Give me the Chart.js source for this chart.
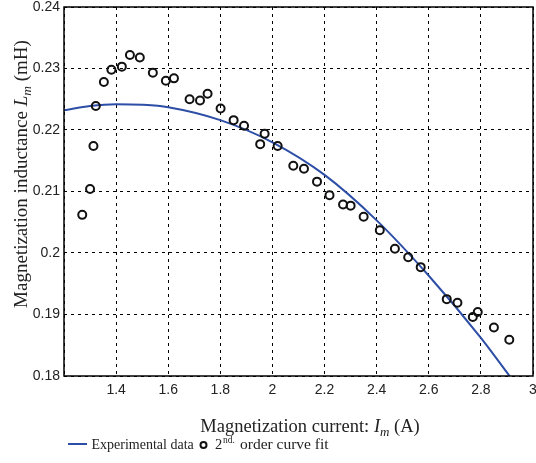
<!DOCTYPE html>
<html>
<head>
<meta charset="utf-8">
<script src="https://cdn.jsdelivr.net/npm/chart.js@4/dist/chart.umd.min.js"></script>
<style>
  html, body { margin: 0; padding: 0; background: #fff; }
  #wrap { position: relative; width: 536px; height: 463px; }
</style>
</head>
<body>
<div id="wrap"><canvas id="chart"></canvas></div>
<script>
const currentData = [1.27, 1.30, 1.313, 1.322, 1.353, 1.382, 1.422, 1.453, 1.491, 1.541, 1.591, 1.622,
  1.682, 1.722, 1.751, 1.801, 1.851, 1.891, 1.953, 1.970, 2.020, 2.080, 2.121, 2.171, 2.219, 2.271,
  2.300, 2.350, 2.412, 2.470, 2.521, 2.569, 2.669, 2.710, 2.769, 2.788, 2.850, 2.909];
const inductanceData = [0.2062, 0.2104, 0.2174, 0.2239, 0.2278, 0.2298, 0.2303, 0.2322, 0.2318, 0.2293, 0.2280, 0.2284,
  0.2250, 0.2248, 0.2259, 0.2235, 0.2216, 0.2207, 0.2177, 0.2194, 0.2174, 0.2142, 0.2137, 0.2116, 0.2094, 0.2079,
  0.2077, 0.2059, 0.2037, 0.2007, 0.1993, 0.1977, 0.1925, 0.1919, 0.1896, 0.1904, 0.1879, 0.1859];

// Fitted curve
const curveX = [1.2, 1.3, 1.4, 1.5, 1.6, 1.8, 2.0, 2.2, 2.4, 2.6, 2.8, 2.91];
const curveY = [0.2232, 0.2239, 0.2242, 0.2241, 0.2237, 0.2216, 0.2180, 0.2127, 0.2053, 0.1963, 0.1862, 0.1800];

const xTicks = [1.4, 1.6, 1.8, 2, 2.2, 2.4, 2.6, 2.8, 3];
const yTicks = [0.18, 0.19, 0.2, 0.21, 0.22, 0.23, 0.24];

const lineLabel = 'Experimental data';
const pointLabel = '2nd. order curve fit';

const BLUE = '#2d4ea6';
const SERIF = '"Liberation Serif", "Times New Roman", serif';
const SANS = '"Liberation Sans", Arial, sans-serif';

// draw a run of text pieces: [text, style, size, dy]
function drawRuns(ctx, runs, x, y) {
    let cx = x;
    runs.forEach(r => {
        ctx.font = r[1] + ' ' + r[2] + 'px ' + SERIF;
        ctx.fillText(r[0], cx, y + (r[3] || 0));
        cx += ctx.measureText(r[0]).width;
    });
}
function runsWidth(ctx, runs) {
    let w = 0;
    runs.forEach(r => {
        ctx.font = r[1] + ' ' + r[2] + 'px ' + SERIF;
        w += ctx.measureText(r[0]).width;
    });
    return w;
}

const extras = {
    id: 'extras',
    // pin the plot box so it lines up with the original figure
    afterLayout(chart) {
        const x = chart.scales.x;
        chart.chartArea.right = 533;
        chart.chartArea.width = 533 - chart.chartArea.left;
        x.right = 533;
        x.width = 533 - x.left;
        x.configure();
    },
    afterDraw(chart) {
        const ctx = chart.ctx;
        const a = chart.chartArea;
        ctx.save();
        // box
        ctx.strokeStyle = '#000';
        ctx.lineWidth = 1.5;
        ctx.setLineDash([]);
        ctx.strokeRect(a.left, a.top, a.right - a.left, a.bottom - a.top);

        ctx.fillStyle = '#222';
        ctx.textBaseline = 'alphabetic';
        ctx.textAlign = 'left';

        // x title
        const xr = [['Magnetization current: ', 'normal', 18.5], ['I', 'italic', 18.5], ['m', 'italic', 13, 4], [' (A)', 'normal', 18.5]];
        drawRuns(ctx, xr, 310 - runsWidth(ctx, xr) / 2, 432);

        // y title
        const yr = [['Magnetization inductance ', 'normal', 19], ['L', 'italic', 19], ['m', 'italic', 13.5, 4], [' (mH)', 'normal', 19]];
        ctx.save();
        ctx.translate(27, 174);
        ctx.rotate(-Math.PI / 2);
        drawRuns(ctx, yr, -runsWidth(ctx, yr) / 2, 0);
        ctx.restore();

        // legend
        ctx.strokeStyle = BLUE;
        ctx.lineWidth = 2;
        ctx.beginPath();
        ctx.moveTo(68, 444);
        ctx.lineTo(87, 444);
        ctx.stroke();
        drawRuns(ctx, [[lineLabel, 'normal', 14]], 91.5, 449);
        ctx.strokeStyle = '#111';
        ctx.lineWidth = 2;
        ctx.beginPath();
        ctx.arc(203.5, 445, 3, 0, Math.PI * 2);
        ctx.stroke();
        drawRuns(ctx, [['2', 'normal', 14.5]], 215, 449);
        drawRuns(ctx, [['nd.', 'normal', 9.5]], 223, 443);
        drawRuns(ctx, [['order curve fit', 'normal', 15.5]], 240, 449);
        ctx.restore();
    }
};

const ctx = document.getElementById('chart').getContext('2d');
new Chart(ctx, {
    type: 'scatter',
    data: {
        datasets: [{
            label: pointLabel,
            data: currentData.map((x, i) => ({ x: x, y: inductanceData[i] })),
            pointStyle: 'circle',
            pointRadius: 4,
            pointBorderWidth: 2,
            borderColor: '#111',
            backgroundColor: 'rgba(0,0,0,0)',
            order: 0
        }, {
            label: lineLabel,
            data: curveX.map((x, i) => ({ x: x, y: curveY[i] })),
            showLine: true,
            pointRadius: 0,
            borderColor: BLUE,
            borderWidth: 2,
            cubicInterpolationMode: 'monotone',
            order: 1
        }]
    },
    options: {
        responsive: true,
        maintainAspectRatio: false,
        animation: false,
        layout: { padding: { top: 7, right: 3, left: 0, bottom: 0 } },
        plugins: {
            legend: { display: false },
            tooltip: { enabled: false }
        },
        scales: {
            x: {
                type: 'linear',
                min: 1.2,
                max: 3,
                afterFit: s => { s.height = 87; s.paddingLeft = 0; s.paddingRight = 0; },
                afterBuildTicks: s => { s.ticks = [1.2].concat(xTicks).map(v => ({ value: v })); },
                ticks: {
                    color: '#222',
                    font: { family: SANS, size: 14 },
                    padding: 6,
                    maxRotation: 0,
                    callback: v => (v < 1.3 ? '' : String(Math.round(v * 10) / 10))
                },
                grid: { color: '#000', lineWidth: 1, drawTicks: false },
                border: { display: false, dash: [3, 4] }
            },
            y: {
                min: 0.18,
                max: 0.24,
                afterFit: s => { s.width = 64; s.paddingTop = 0; s.paddingBottom = 0; },
                afterBuildTicks: s => { s.ticks = yTicks.map(v => ({ value: v })); },
                ticks: {
                    color: '#222',
                    font: { family: SANS, size: 14 },
                    padding: 4,
                    callback: v => String(Math.round(v * 100) / 100)
                },
                grid: { color: '#000', lineWidth: 1, drawTicks: false },
                border: { display: false, dash: [3, 4] }
            }
        }
    },
    plugins: [extras]
});
</script>
</body>
</html>
